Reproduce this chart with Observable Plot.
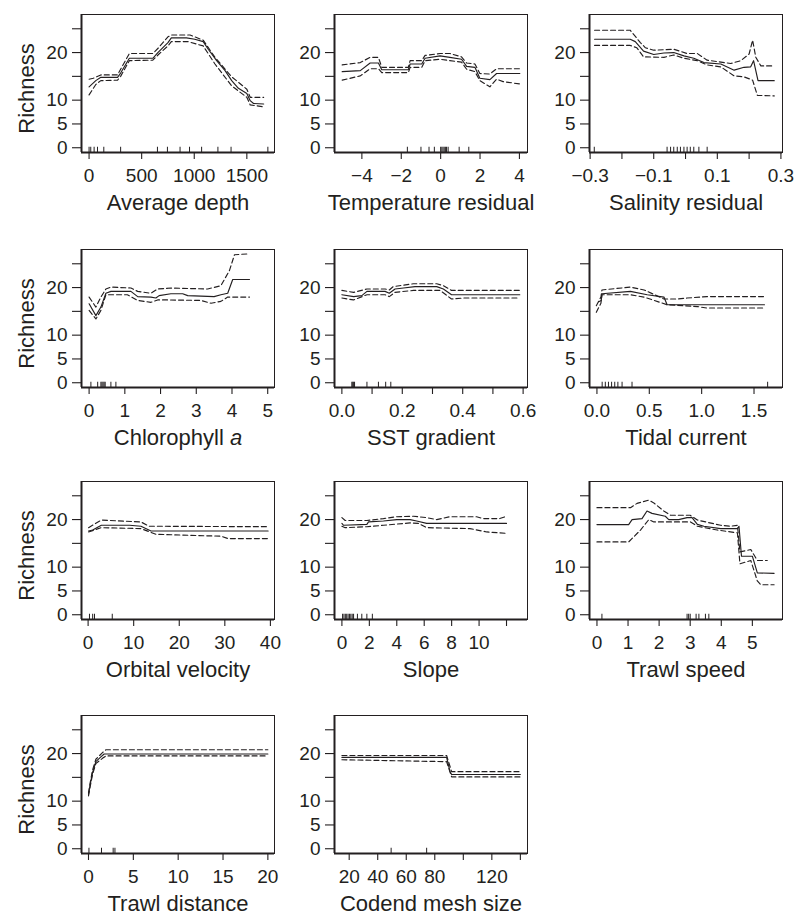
<!DOCTYPE html>
<html><head><meta charset="utf-8">
<script src="https://cdn.jsdelivr.net/npm/d3@7"></script>
<script src="https://cdn.jsdelivr.net/npm/@observablehq/plot@0.6"></script>
<style>
body{margin:0;background:#fff;}
#chart{position:relative;width:796px;height:915px;background:#fff;font-family:"Liberation Sans",Arial,Helvetica,sans-serif;color:#231f20;}
#chart svg{position:absolute;}
</style></head><body><div id="chart"></div>
<script>
// ---------- shared axis values ----------
const yTicks = [0, 5, 10, 15, 20, 25];
const yTickLabels = ["0", "5", "10", "", "20", ""];
const titles = ["Average depth", "Temperature residual", "Salinity residual",
  "Chlorophyll a", "SST gradient", "Tidal current",
  "Orbital velocity", "Slope", "Trawl speed",
  "Trawl distance", "Codend mesh size"];
const yTitle = "Richness";

// ---------- Average depth ----------
const depthTicks = [0, 500, 1000, 1500];
const depthTickLabels = ["0", "500", "1000", "1500"];
const depthMid = [[0,12.8],[64,14.1],[112,14.8],[271,14.8],[303,15.8],[383,18.8],[606,18.8],[654,20],[750,22.1],[782,23.1],[926,23.1],[1005,22.8],[1085,22.3],[1133,20.7],[1213,18.3],[1293,16.2],[1356,14.1],[1420,12.5],[1500,11.4],[1532,9.9],[1564,9.3],[1660,9.2]];
const depthUpper = [[0,14.4],[40,14.6],[112,15.3],[271,15.3],[300,16.5],[383,19.8],[606,19.8],[660,21],[750,23.3],[782,23.7],[960,23.7],[1085,22.6],[1197,19.0],[1356,14.9],[1500,12.3],[1532,10.6],[1660,10.6]];
const depthLower = [[0,11.1],[64,13.3],[112,14.1],[271,14.2],[300,15],[383,18.3],[606,18.4],[660,19.6],[750,21.4],[782,22.3],[940,22.3],[1085,21.4],[1197,17.6],[1356,13.0],[1500,10.6],[1532,9.0],[1660,8.6]];
const depthRug = [0,16,48,80,140,300,650,745,865,955,1070,1225,1350,1700];

// ---------- Temperature residual ----------
const tempTicks = [-4, -2, 0, 2, 4];
const tempTickLabels = ["\u22124", "\u22122", "0", "2", "4"];
const tempMid = [[-5.0,16.0],[-4.08,16.2],[-3.58,17.8],[-3.16,17.8],[-2.99,16.4],[-1.64,16.4],[-1.55,17.6],[-0.96,17.6],[-0.79,18.8],[-0.03,19.3],[0.47,19.0],[1.06,18.6],[1.32,17.1],[1.74,16.9],[1.99,14.6],[2.5,14.3],[2.84,15.6],[4.02,15.6]];
const tempUpper = [[-5.0,17.4],[-4.08,17.9],[-3.58,19.0],[-3.16,19.0],[-2.99,16.9],[-1.64,16.9],[-1.55,18.3],[-0.96,18.3],[-0.79,19.4],[-0.03,19.8],[0.47,19.8],[1.06,19.1],[1.32,17.8],[1.74,17.6],[1.99,15.6],[2.5,15.5],[2.84,16.6],[4.02,16.6]];
const tempLower = [[-5.0,14.2],[-4.08,15.1],[-3.58,16.6],[-3.16,16.6],[-2.99,15.8],[-1.64,15.8],[-1.55,16.9],[-0.96,16.9],[-0.79,18.3],[-0.03,18.6],[0.47,18.3],[1.06,18.0],[1.32,16.5],[1.74,16.0],[1.99,14.1],[2.5,12.8],[2.84,14.4],[3.17,13.9],[4.02,13.4]];
const tempRug = [-1.69,-1.0,-0.59,-0.32,0.0,0.06,0.12,0.18,0.24,0.3,0.38,0.94,1.43];

// ---------- Salinity residual ----------
const salTicks = [-0.3, -0.2, -0.1, 0, 0.1, 0.2, 0.3];
const salTickLabels = ["\u22120.3", "", "\u22120.1", "", "0.1", "", "0.3"];
const salMid = [[-0.286,22.8],[-0.174,22.8],[-0.158,22.3],[-0.132,20.3],[-0.1,19.6],[-0.068,19.9],[-0.037,20.0],[-0.005,19.3],[0.026,18.8],[0.058,17.9],[0.111,17.6],[0.153,16.3],[0.184,16.9],[0.205,17.0],[0.214,18.3],[0.228,14.1],[0.279,14.1]];
const salUpper = [[-0.286,24.7],[-0.174,24.7],[-0.142,22.1],[-0.126,21.0],[-0.1,20.5],[-0.037,20.7],[0.005,19.8],[0.037,19.8],[0.068,18.4],[0.142,17.7],[0.174,18.3],[0.2,19.7],[0.211,22.6],[0.221,19.0],[0.237,17.2],[0.279,17.2]];
const salLower = [[-0.286,21.5],[-0.174,21.5],[-0.153,21.0],[-0.132,19.1],[-0.068,19.0],[-0.037,19.5],[-0.005,18.8],[0.037,18.3],[0.068,17.4],[0.111,17.0],[0.153,15.1],[0.184,14.9],[0.211,14.2],[0.226,11.0],[0.279,10.9]];
const salRug = [-0.287,-0.058,-0.047,-0.037,-0.026,-0.016,-0.005,0.005,0.015,0.026,0.042,0.068];

// ---------- Chlorophyll a ----------
const chlTicks = [0, 1, 2, 3, 4, 5];
const chlTickLabels = ["0", "1", "2", "3", "4", "5"];
const chlMid = [[0,16.6],[0.19,14.1],[0.33,15.9],[0.47,18.8],[0.61,19.2],[1.17,19.2],[1.36,18.1],[1.73,18.0],[1.87,17.8],[1.96,18.3],[2.29,18.7],[2.62,18.7],[2.76,18.3],[3.5,18.1],[3.69,18.5],[3.88,18.8],[4.02,21.7],[4.49,21.7]];
const chlUpper = [[0,18.0],[0.19,15.9],[0.33,18.0],[0.47,19.7],[0.61,20.1],[1.17,19.9],[1.36,19.2],[1.73,18.8],[1.92,19.7],[2.29,19.9],[3.32,19.7],[3.69,20.4],[3.93,23.6],[4.07,26.9],[4.49,27.1]];
const chlLower = [[0,15.2],[0.19,13.4],[0.33,15.2],[0.47,18.5],[1.07,18.5],[1.36,17.3],[1.73,16.9],[1.92,17.4],[2.2,17.4],[3.13,17.3],[3.41,16.7],[3.69,17.1],[3.88,18.0],[4.49,18.0]];
const chlRug = [0.05,0.24,0.33,0.36,0.39,0.42,0.45,0.61,0.75];

// ---------- SST gradient ----------
const sstTicks = [0, 0.1, 0.2, 0.3, 0.4, 0.5, 0.6];
const sstTickLabels = ["0.0", "", "0.2", "", "0.4", "", "0.6"];
const sstMid = [[0,18.5],[0.039,18.1],[0.066,18.3],[0.083,19.2],[0.143,19.2],[0.157,18.8],[0.176,19.7],[0.204,19.9],[0.242,20.2],[0.314,20.2],[0.336,19.7],[0.363,18.5],[0.589,18.5]];
const sstUpper = [[0,19.4],[0.039,19.0],[0.083,19.7],[0.143,19.7],[0.157,19.5],[0.17,20.2],[0.237,20.8],[0.314,20.8],[0.336,20.4],[0.363,19.4],[0.589,19.4]];
const sstLower = [[0,17.8],[0.039,17.4],[0.083,18.5],[0.143,18.5],[0.157,18.1],[0.176,19.0],[0.237,19.4],[0.325,19.4],[0.363,17.6],[0.402,17.8],[0.589,17.8]];
const sstRug = [0.033,0.036,0.039,0.042,0.083,0.121,0.145,0.162];

// ---------- Tidal current ----------
const tidTicks = [0, 0.5, 1, 1.5];
const tidTickLabels = ["0.0", "0.5", "1.0", "1.5"];
const tidMid = [[0.016,17.0],[0.041,17.3],[0.048,18.7],[0.32,19.2],[0.48,18.5],[0.64,18.0],[0.67,16.4],[1.6,16.4]];
const tidUpper = [[-0.006,16.2],[0.038,18.0],[0.048,19.5],[0.32,20.1],[0.45,19.5],[0.64,17.6],[0.77,17.6],[0.86,17.8],[1.05,18.1],[1.6,18.1]];
const tidLower = [[-0.006,14.8],[0.038,16.7],[0.048,18.5],[0.32,18.5],[0.45,18.0],[0.67,16.4],[0.96,16.0],[1.05,15.7],[1.6,15.7]];
const tidRug = [0.05,0.08,0.11,0.14,0.17,0.2,0.24,0.335,1.63];

// ---------- Orbital velocity ----------
const orbTicks = [0, 10, 20, 30, 40];
const orbTickLabels = ["0", "10", "20", "30", "40"];
const orbMid = [[0.1,17.6],[1.0,17.8],[2.9,18.8],[9.1,18.8],[11.6,18.6],[13.8,17.6],[39.5,17.6]];
const orbUpper = [[0.1,18.3],[2.9,19.9],[11.6,19.5],[13.4,18.6],[39.5,18.5]];
const orbLower = [[0.1,17.4],[2.9,18.3],[11.6,18.1],[14.9,16.9],[29.2,16.5],[30.7,16.0],[39.5,16.0]];
const orbRug = [0.3,1.0,1.4,5.3];

// ---------- Slope ----------
const slopeTicks = [0, 2, 4, 6, 8, 10, 12];
const slopeTickLabels = ["0", "2", "4", "6", "8", "10", ""];
const slopeMid = [[0,19.2],[0.12,18.8],[1.82,19.0],[1.94,19.5],[3.03,19.7],[4.0,20.0],[4.97,20.0],[5.45,19.7],[6.18,19.2],[12,19.2]];
const slopeUpper = [[0,20.4],[0.24,19.8],[1.82,19.8],[3.03,20.2],[4.0,20.6],[5.21,20.7],[6.18,20.4],[6.91,20.0],[7.88,20.6],[9.82,20.6],[10.3,20.2],[11.5,20.2],[12,20.7]];
const slopeLower = [[0,18.6],[0.24,18.3],[1.82,18.5],[3.03,18.8],[4.97,19.3],[5.58,19.2],[6.18,18.3],[9.33,18.1],[10.55,17.4],[12,17.1]];
const slopeRug = [0.05,0.15,0.25,0.35,0.45,0.55,0.65,0.75,0.85,1.13,1.45,1.82,2.22];

// ---------- Trawl speed ----------
const speedTicks = [0, 1, 2, 3, 4, 5];
const speedTickLabels = ["0", "1", "2", "3", "4", "5"];
const speedMid = [[0,18.95],[1.02,18.95],[1.13,20.0],[1.45,20.2],[1.61,21.8],[1.77,21.3],[2.2,20.7],[2.31,20.0],[2.63,20.0],[2.9,20.4],[3.06,20.4],[3.23,19.0],[3.44,18.6],[3.98,18.1],[4.52,18.1],[4.57,18.6],[4.65,12.3],[5.0,12.3],[5.16,8.8],[5.7,8.7]];
const speedUpper = [[0,22.5],[1.08,22.5],[1.29,23.4],[1.67,24.1],[1.83,23.5],[2.15,21.8],[2.37,20.9],[3.0,20.9],[3.23,19.9],[3.98,18.8],[4.3,18.6],[4.52,18.8],[4.6,13.2],[4.95,13.7],[5.16,11.4],[5.48,11.4]];
const speedLower = [[0,15.3],[1.02,15.3],[1.4,17.8],[1.67,20.0],[1.83,19.5],[3.01,19.5],[3.23,18.6],[3.87,17.8],[4.52,17.2],[4.6,10.7],[4.95,11.4],[5.16,7.1],[5.27,6.3],[5.7,6.3]];
const speedRug = [0.16,2.9,2.95,3.0,3.19,3.28,3.49,3.6];

// ---------- Trawl distance ----------
const distTicks = [0, 5, 10, 15, 20];
const distTickLabels = ["0", "5", "10", "15", "20"];
const distMid = [[0,11.4],[0.19,13.5],[0.45,16.0],[0.82,18.3],[1.38,19.3],[1.75,19.9],[20,19.9]];
const distUpper = [[0,11.7],[0.19,13.9],[0.45,16.5],[0.82,18.8],[1.56,20.2],[1.94,20.8],[20,20.8]];
const distLower = [[0,11.1],[0.19,13.1],[0.45,15.6],[0.82,17.9],[1.56,19.0],[1.94,19.5],[20,19.5]];
const distRug = [0.05,1.45,2.75,2.95];

// ---------- Codend mesh size ----------
const meshTicks = [20, 40, 60, 80, 100, 120, 140];
const meshTickLabels = ["20", "40", "60", "80", "", "120", ""];
const meshMid = [[14.9,19.2],[88.3,19.2],[90.6,16.3],[91.8,15.6],[140,15.6]];
const meshUpper = [[14.9,19.6],[88.3,19.6],[91.8,16.2],[140,16.2]];
const meshLower = [[14.9,18.7],[88.3,18.3],[91.8,15.1],[140,15.1]];
const meshRug = [49.4,74.3];

// ---------- assemble ----------
const panels = [
  {mid: depthMid, upper: depthUpper, lower: depthLower, rug: depthRug, ticks: depthTicks, labels: depthTickLabels, domain: [-72, 1763]},
  {mid: tempMid, upper: tempUpper, lower: tempLower, rug: tempRug, ticks: tempTicks, labels: tempTickLabels, domain: [-5.39, 4.41]},
  {mid: salMid, upper: salUpper, lower: salLower, rug: salRug, ticks: salTicks, labels: salTickLabels, domain: [-0.302, 0.305]},
  {mid: chlMid, upper: chlUpper, lower: chlLower, rug: chlRug, ticks: chlTicks, labels: chlTickLabels, domain: [-0.213, 5.19]},
  {mid: sstMid, upper: sstUpper, lower: sstLower, rug: sstRug, ticks: sstTicks, labels: sstTickLabels, domain: [-0.0244, 0.6145]},
  {mid: tidMid, upper: tidUpper, lower: tidLower, rug: tidRug, ticks: tidTicks, labels: tidTickLabels, domain: [-0.071, 1.772]},
  {mid: orbMid, upper: orbUpper, lower: orbLower, rug: orbRug, ticks: orbTicks, labels: orbTickLabels, domain: [-1.45, 40.9]},
  {mid: slopeMid, upper: slopeUpper, lower: slopeLower, rug: slopeRug, ticks: slopeTicks, labels: slopeTickLabels, domain: [-0.54, 13.53]},
  {mid: speedMid, upper: speedUpper, lower: speedLower, rug: speedRug, ticks: speedTicks, labels: speedTickLabels, domain: [-0.24, 5.97]},
  {mid: distMid, upper: distUpper, lower: distLower, rug: distRug, ticks: distTicks, labels: distTickLabels, domain: [-0.78, 20.74]},
  {mid: meshMid, upper: meshUpper, lower: meshLower, rug: meshRug, ticks: meshTicks, labels: meshTickLabels, domain: [9.7, 145]}
];

const ink = "#231f20";
const colLeft = [80.7, 334.3, 589.3];
const rowTop = [14, 249, 481, 715];
const boxW = 193, boxH = 138;
const mL = 80, mT = 10, mR = 22, mB = 70;
const chart = document.getElementById("chart");

panels.forEach((p, i) => {
  const c = i % 3, r = Math.floor(i / 3);
  const xy = {x: d => d[0], y: d => d[1], stroke: ink, strokeWidth: 1.15};
  const svg = Plot.plot({
    width: mL + boxW + mR,
    height: mT + boxH + mB,
    marginLeft: mL, marginRight: mR, marginTop: mT, marginBottom: mB,
    style: {background: "transparent", overflow: "visible", fontFamily: '"Liberation Sans", Arial, Helvetica, sans-serif', fontSize: "19px", color: ink},
    x: {domain: p.domain},
    y: {domain: [-1, 28]},
    marks: [
      Plot.frame({stroke: ink, strokeWidth: 1}),
      Plot.ruleX([p.domain[0]], {stroke: ink, strokeWidth: 2}),
      Plot.ruleY([-1], {stroke: ink, strokeWidth: 2}),
      Plot.axisY({ticks: yTicks, tickFormat: d => yTickLabels[yTicks.indexOf(d)], tickSize: 9, tickPadding: 5, fontSize: 19, label: null, stroke: ink, strokeWidth: 1.1}),
      Plot.axisX({ticks: p.ticks, tickFormat: d => p.labels[p.ticks.indexOf(d)], tickSize: 7, tickPadding: 9, fontSize: 19, label: null, stroke: ink, strokeWidth: 1.1}),
      Plot.ruleX(p.rug, {x: d => d, y1: -1, y2: 0.1, stroke: ink, strokeWidth: 1}),
      Plot.line(p.upper, {...xy, strokeDasharray: "5,3"}),
      Plot.line(p.lower, {...xy, strokeDasharray: "5,3"}),
      Plot.line(p.mid, xy),
      Plot.text([titles[i]], {text: d => d, frameAnchor: "bottom", textAnchor: "middle", lineAnchor: "middle", dy: 50, fontSize: 22, fill: ink}),
      c === 0 ? Plot.text([yTitle], {text: d => d, frameAnchor: "left", textAnchor: "middle", lineAnchor: "middle", rotate: -90, dx: -55, dy: 5, fontSize: 22, fill: ink}) : null
    ]
  });
  svg.style.left = (colLeft[c] - mL) + "px";
  svg.style.top = (rowTop[r] - mT) + "px";
  svg.querySelectorAll("text").forEach(t => {
    if (t.textContent === "Chlorophyll a") {
      t.textContent = "Chlorophyll ";
      const ts = document.createElementNS("http://www.w3.org/2000/svg", "tspan");
      ts.setAttribute("font-style", "italic");
      ts.textContent = "a";
      t.appendChild(ts);
    }
  });
  chart.appendChild(svg);
});
</script>
</body></html>
